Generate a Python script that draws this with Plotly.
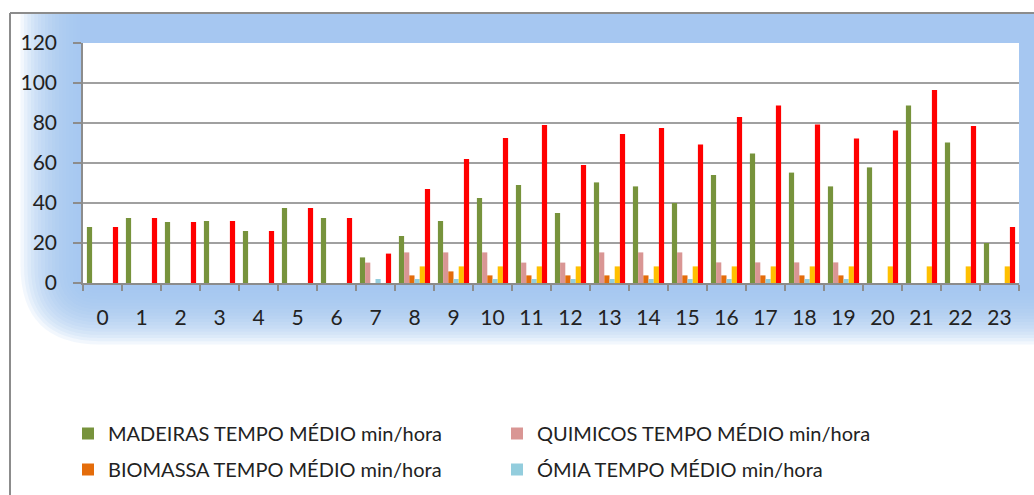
import plotly.graph_objects as go

hours = [str(h) for h in range(24)]

madeiras = [28, 32.5, 30.5, 31, 26, 37.5, 32.5, 12.8, 23.5, 31, 42.5, 49, 35, 50.3,
            48.3, 40, 54, 64.7, 55.2, 48.3, 57.8, 88.8, 70.3, 20]
quimicos = [None] * 7 + [10.2, 15.3, 15.3, 15.3, 10.2, 10.2, 15.3, 15.3, 15.3, 10.3,
                         10.3, 10.3, 10.3, None, None, None, None]
biomassa = [None] * 8 + [3.8, 5.8, 3.8, 3.8, 3.8, 3.8, 3.8, 3.8, 3.8, 3.8, 3.8, 3.8,
                         None, None, None, None]
omia = [None] * 7 + [2, 2, 2, 2, 2, 2, 2, 2, 2, 2, 2, 2, 2, None, None, None, None]
serie5 = [None] * 8 + [8.3] * 16
serie6 = [28, 32.5, 30.5, 31, 26, 37.5, 32.5, 14.7, 47, 62, 72.5, 79, 59, 74.5, 77.5,
          69.2, 83, 88.8, 79.2, 72.3, 76.2, 96.5, 78.5, 28]

# name, values, colour, legend id (None = not in legend)
series = [
    ("MADEIRAS TEMPO MÉDIO min/hora", madeiras, "#77933C", "legend"),
    ("QUIMICOS TEMPO MÉDIO min/hora", quimicos, "#D99694", "legend"),
    ("BIOMASSA TEMPO MÉDIO min/hora", biomassa, "#E46C0A", "legend2"),
    ("ÓMIA TEMPO MÉDIO min/hora", omia, "#93CDDD", "legend2"),
    ("Série 5", serie5, "#FFC000", None),
    ("Série 6", serie6, "#FF0000", None),
]

W, H = 1034, 495
L, R, T, B = 83, 1019, 43, 283  # plot area in px


def px(x):
    return (x - L) / (R - L)


def py(y):
    return (B - y) / (B - T)


fig = go.Figure()
for name, vals, col, leg in series:
    kw = dict(legend=leg) if leg else dict(showlegend=False)
    fig.add_trace(go.Bar(x=hours, y=vals, name=name, marker_color=col,
                         marker_line_width=0, **kw))

shapes = []
# soft blue glow around plot area
N = 18
for i in range(N):
    l = 80 - i * 3.5
    b = 290 + i * 3.2
    t = 14
    r = 1060
    rad = 18 + i * 3.6
    path = (f"M {px(l)},{py(t)} L {px(r)},{py(t)} L {px(r)},{py(b)} "
            f"L {px(l + rad)},{py(b)} Q {px(l)},{py(b)} {px(l)},{py(b - rad)} Z")
    shapes.append(dict(type="path", xref="paper", yref="paper", path=path,
                       fillcolor="rgba(160,198,240,0.14)", line_width=0, layer="below"))
# white plot area
shapes.append(dict(type="rect", xref="paper", yref="paper", x0=0, x1=1, y0=0, y1=1,
                   fillcolor="white", line_width=0, layer="below"))
# outer frame
shapes.append(dict(type="line", xref="paper", yref="paper", x0=px(10), x1=px(10),
                   y0=py(13), y1=py(500), line=dict(color="#8C8C8C", width=2)))
shapes.append(dict(type="line", xref="paper", yref="paper", x0=px(10), x1=px(1040),
                   y0=py(13), y1=py(13), line=dict(color="#8C8C8C", width=2)))

font_family = "Lato, Open Sans, sans-serif"
leg_common = dict(orientation="h", xanchor="left", yanchor="top",
                  font=dict(size=20, family=font_family, color="#222222"),
                  entrywidth=384, itemwidth=30, traceorder="normal",
                  bgcolor="rgba(0,0,0,0)")

fig.update_layout(
    width=W, height=H,
    margin=dict(l=L, r=W - R, t=T, b=H - B, autoexpand=False),
    paper_bgcolor="white",
    plot_bgcolor="white",
    barmode="group",
    bargap=0.2,
    bargroupgap=0,
    shapes=shapes,
    font=dict(family=font_family, color="#222222"),
    legend=dict(x=px(68), y=py(414), **leg_common),
    legend2=dict(x=px(68), y=py(450), **leg_common),
    xaxis=dict(
        type="category", showgrid=False, showline=True, linecolor="#8C8C8C",
        linewidth=1.5, ticks="outside", tickson="boundaries", ticklen=6,
        tickcolor="#8C8C8C", tickwidth=1.5, tickfont=dict(size=21),
        ticklabelstandoff=15,
    ),
    yaxis=dict(
        range=[0, 120], dtick=20, showgrid=True, gridcolor="#A0A0A0", gridwidth=1.5,
        showline=True, linecolor="#8C8C8C", linewidth=1.5, ticks="outside", ticklen=8,
        tickcolor="#8C8C8C", tickwidth=1.5, tickfont=dict(size=21), zeroline=False,
        ticklabelstandoff=12,
    ),
)

fig.write_html("out.html", config={"displayModeBar": False})

# remove the browser's default page margin so the figure sits at (0, 0)
with open("out.html", encoding="utf-8") as f:
    html = f.read()
html = html.replace("<body>", '<body style="margin:0;overflow:hidden">', 1)
with open("out.html", "w", encoding="utf-8") as f:
    f.write(html)
